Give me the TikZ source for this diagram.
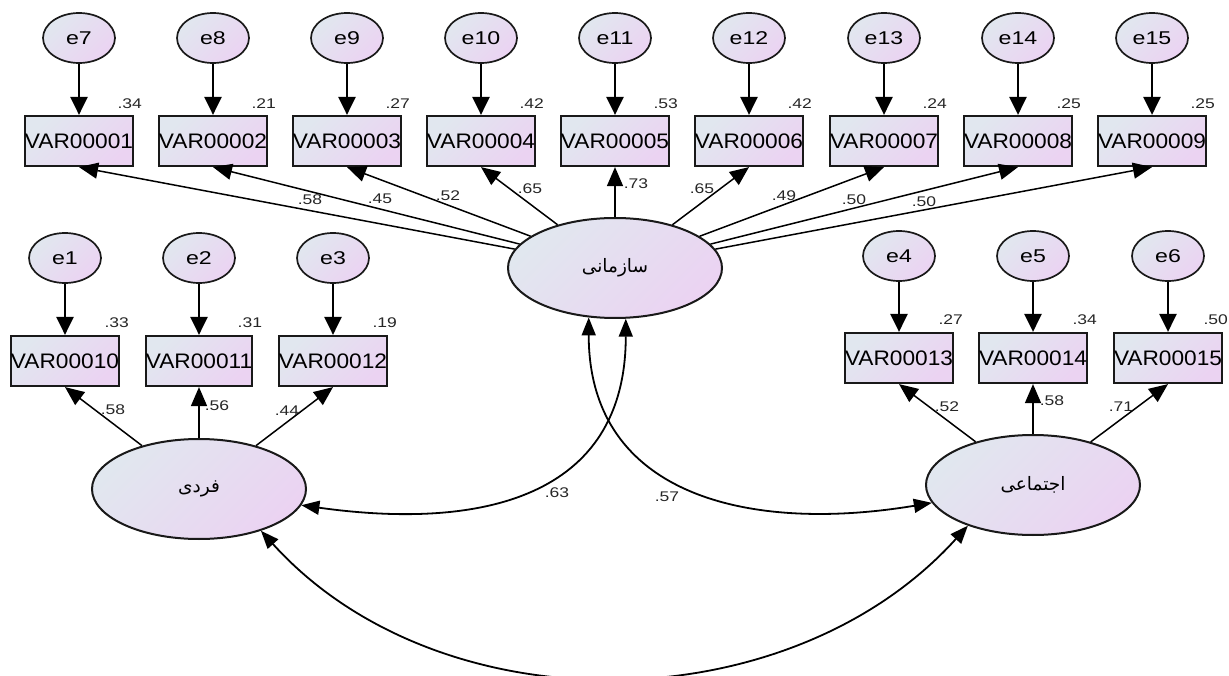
\documentclass[tikz,border=0pt]{standalone}
\usepackage{fontspec}
\usepackage{graphicx}
\setmainfont{Liberation Sans}
\newfontfamily\arabicfont[Script=Arabic]{DejaVu Sans}
\TeXXeTstate=1
\usetikzlibrary{shapes.geometric,arrows.meta,calc}
\definecolor{bgA}{HTML}{E1E7EF}
\definecolor{bgB}{HTML}{EBD3F2}
\newcommand\hx[2]{\scalebox{#1}[1]{#2}}
\begin{document}
\begin{tikzpicture}[x=1pt,y=-1pt,
 shd/.style={shade, shading=axis, left color=bgA, right color=bgB, shading angle=45},
 err/.style={ellipse, shd, draw=black!90, line width=1.7pt, minimum width=72pt, minimum height=50pt, inner sep=0pt, font=\fontsize{18.5}{20}\selectfont},
 obs/.style={rectangle, shd, draw=black!90, line width=2.2pt, minimum width=106pt, minimum height=50pt, inner sep=0pt, font=\fontsize{21}{24}\selectfont},
 lat/.style={ellipse, shd, draw=black!90, line width=2pt, minimum width=214pt, minimum height=100pt, inner sep=0pt, font=\arabicfont\fontsize{18.5}{20}\selectfont},
 num/.style={font=\fontsize{14}{16}\selectfont, inner sep=0pt, text=black!85},
 errarr/.style={line width=2.6pt, -{Triangle[length=18pt,width=17pt]}},
 load/.style={line width=1.5pt, -{Triangle[length=19pt,width=16pt]}},
 cov/.style={line width=1.8pt, {Triangle[length=18pt,width=14pt]}-{Triangle[length=18pt,width=14pt]}}
]
\useasboundingbox (0,0) rectangle (1229,676);

% latent variables
\node[lat] (S) at (615,268) {\beginR سازمانی\endR};
\node[lat] (F) at (199,489) {\beginR فردی\endR};
\node[lat] (E) at (1033,485) {\beginR اجتماعی\endR};

% top row
\foreach \k/\x/\r/\e in {1/79/.34/7, 2/213/.21/8, 3/347/.27/9, 4/481/.42/10, 5/615/.53/11, 6/749/.42/12, 7/884/.24/13, 8/1018/.25/14, 9/1152/.25/15}{
  \node[err] (e\e) at (\x,38) {\hx{1.25}{e\e}};
  \node[obs] (v\k) at (\x,141) {\hx{1.08}{VAR0000\k}};
  \node[num, anchor=base east] (r\k) at ($(v\k.north east)+(8,-6)$) {\hx{1.25}{\r}};
  \draw[errarr] (e\e) -- (v\k);
  \draw[load] (S) -- (v\k.south);
}

% left group
\foreach \k/\x/\r/\e in {10/65/.33/1, 11/199/.31/2, 12/333/.19/3}{
  \node[err] (e\e) at (\x,258) {\hx{1.25}{e\e}};
  \node[obs] (v\k) at (\x,361) {\hx{1.08}{VAR000\k}};
  \node[num, anchor=base east] (r\k) at ($(v\k.north east)+(9,-7)$) {\hx{1.25}{\r}};
  \draw[errarr] (e\e) -- (v\k);
  \draw[load] (F) -- (v\k.south);
}

% right group
\foreach \k/\x/\r/\e/\d in {13/899/.27/4/9, 14/1033/.34/5/9, 15/1168/.50/6/5}{
  \node[err] (e\e) at (\x,256) {\hx{1.25}{e\e}};
  \node[obs] (v\k) at (\x,358) {\hx{1.08}{VAR000\k}};
  \node[num, anchor=base east] (r\k) at ($(v\k.north east)+(\d,-7)$) {\hx{1.25}{\r}};
  \draw[errarr] (e\e) -- (v\k);
  \draw[load] (E) -- (v\k.south);
}

% loading labels
\node[num] (l1) at (310,200) {\hx{1.25}{.58}};
\node[num] (l2) at (380,199) {\hx{1.25}{.45}};
\node[num] (l3) at (448,196) {\hx{1.25}{.52}};
\node[num] (l4) at (530,189) {\hx{1.25}{.65}};
\node[num] (l5) at (636,184) {\hx{1.25}{.73}};
\node[num] (l6) at (702,189) {\hx{1.25}{.65}};
\node[num] (l7) at (784,196) {\hx{1.25}{.49}};
\node[num] (l8) at (854,200) {\hx{1.25}{.50}};
\node[num] (l9) at (924,202) {\hx{1.25}{.50}};
\node[num] (l10) at (113,410) {\hx{1.25}{.58}};
\node[num] (l11) at (217,406) {\hx{1.25}{.56}};
\node[num] (l12) at (287,411) {\hx{1.25}{.44}};
\node[num] (l13) at (947,407) {\hx{1.25}{.52}};
\node[num] (l14) at (1052,401) {\hx{1.25}{.58}};
\node[num] (l15) at (1121,407) {\hx{1.25}{.71}};

% covariances
\draw[cov] (S.-78) .. controls +(0,180) and +(178,25) .. (F.-9);
\draw[cov] (S.-118) .. controls +(0,180) and +(-180,30) .. (E.-170);
\draw[cov] (F.-34) .. controls +(179,198) and +(-179,198) .. (E.-148);
\node[num] (c1) at (557,493) {\hx{1.25}{.63}};
\node[num] (c2) at (667,497) {\hx{1.25}{.57}};
\end{tikzpicture}
\end{document}
